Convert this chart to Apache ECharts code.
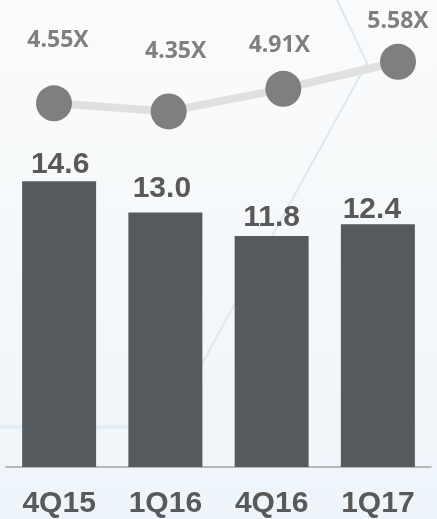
<!DOCTYPE html>
<html>
<head>
<meta charset="utf-8">
<script src="https://cdn.jsdelivr.net/npm/echarts@6/dist/echarts.min.js"></script>
<style>
html,body{margin:0;padding:0;width:437px;height:519px;overflow:hidden;
background:linear-gradient(to bottom,#fafbfc 0%,#f5f8fa 50%,#eef5fa 100%);}
#c{width:437px;height:519px;}
</style>
</head>
<body>
<div id="c"></div>
<script>
var categories = ['4Q15', '1Q16', '4Q16', '1Q17'];
var barValues = [14.6, 13.0, 11.8, 12.4];
var multipleValues = [4.55, 4.35, 4.91, 5.58];
var multipleLabels = ['4.55X', '4.35X', '4.91X', '5.58X'];

var barLabelOffsets = [[1, -2], [-3.5, -9], [0, -3], [-6, 0]];
var lineLabelOffsets = [[4, -63], [7, -60], [-4, -43], [0, -40]];

var chart = echarts.init(document.getElementById('c'), null, {renderer: 'canvas'});
chart.setOption({
  backgroundColor: 'transparent',
  animation: false,
  graphic: [
    {type: 'polyline', silent: true, z: -10,
     shape: {points: [[337, 0], [367, 63], [197, 373]]},
     style: {stroke: '#dce8ef', lineWidth: 2, fill: null}},
    {type: 'line', silent: true, z: -10,
     shape: {x1: 0, y1: 427, x2: 140, y2: 427},
     style: {stroke: '#e2eef5', lineWidth: 4}}
  ],
  grid: [
    {left: 6, right: 6, top: 0, bottom: 49, containLabel: false},
    {left: 54, right: 39, top: 0, bottom: 232, containLabel: false}
  ],
  xAxis: [
    {type: 'category', gridIndex: 0, data: categories,
     axisLine: {show: true, lineStyle: {color: '#a3a3a3', width: 1.5}},
     axisTick: {show: false},
     axisLabel: {margin: 22, color: '#595959', fontFamily: 'Liberation Sans',
                 fontWeight: 'bold', fontSize: 30}},
    {type: 'category', gridIndex: 1, data: categories, boundaryGap: false, show: false}
  ],
  yAxis: [
    {type: 'value', gridIndex: 0, min: 0, max: 23.86, show: false, splitLine: {show: false}},
    {type: 'value', gridIndex: 1, min: 0, max: 7.11, show: false, splitLine: {show: false}}
  ],
  series: [
    {type: 'bar', xAxisIndex: 0, yAxisIndex: 0, barWidth: 74,
     itemStyle: {color: '#555a5e'},
     data: barValues.map(function (v, i) {
       return {value: v, label: {offset: barLabelOffsets[i]}};
     }),
     label: {show: true, position: 'top', distance: 0, color: '#595959',
             fontFamily: 'Liberation Sans', fontWeight: 'bold', fontSize: 30,
             formatter: function (p) { return p.value.toFixed(1); }}
    },
    {type: 'line', xAxisIndex: 1, yAxisIndex: 1,
     symbol: 'circle', symbolSize: 36,
     lineStyle: {color: '#e0e0e0', width: 8},
     itemStyle: {color: '#7f7f7f'},
     data: multipleValues.map(function (v, i) {
       return {value: v, label: {offset: lineLabelOffsets[i]}};
     }),
     label: {show: true, position: 'inside', color: '#7f7f7f',
             fontFamily: '"Open Sans"', fontWeight: 'bold', fontSize: 23,
             formatter: function (p) { return multipleLabels[p.dataIndex]; }}
    }
  ]
});
</script>
</body>
</html>
